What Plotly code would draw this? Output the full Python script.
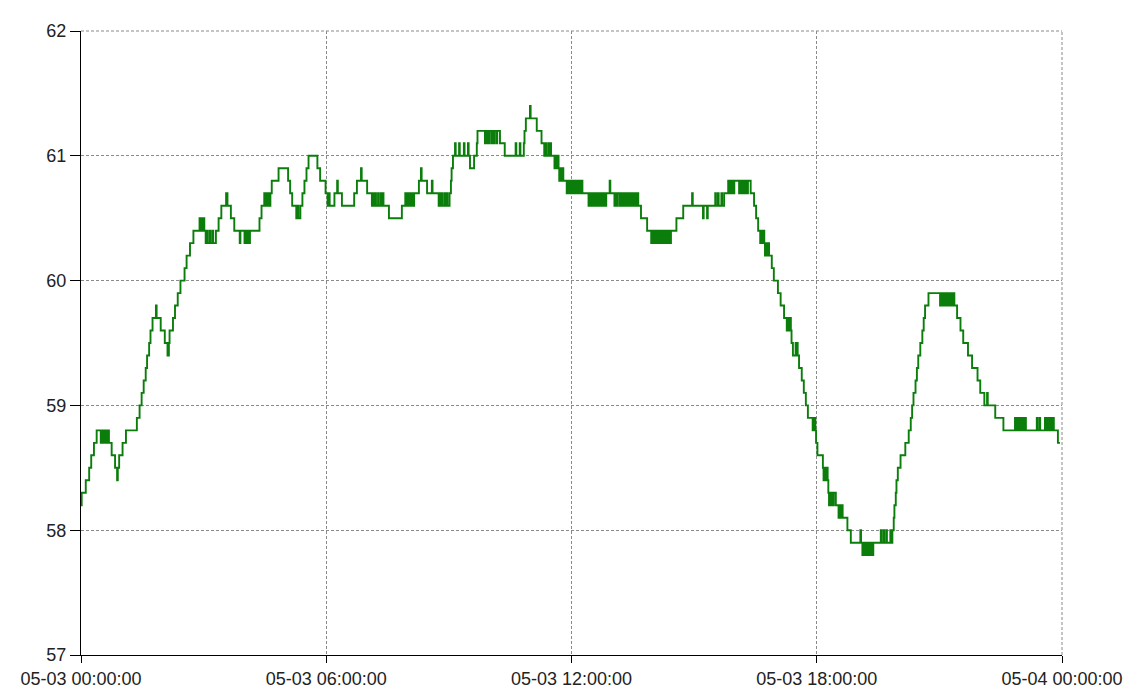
import pandas as pd
import plotly.graph_objects as go

# (minutes after 05-03 00:00, reading)
readings = [
    (0, 58.2), (1, 58.3), (7, 58.4), (12, 58.5), (15, 58.6), (19, 58.7), (23, 58.8),
    (29, 58.7), (31, 58.8), (33, 58.7), (35, 58.8), (37, 58.7), (39, 58.8), (41, 58.7),
    (45, 58.6), (50, 58.5), (53, 58.4), (54, 58.5), (56, 58.6), (61, 58.7), (66, 58.8),
    (82, 58.9), (86, 59.0), (89, 59.1), (92, 59.2), (95, 59.3), (97, 59.4), (100, 59.5), (102, 59.6),
    (105, 59.7), (110, 59.8), (111, 59.7),
    (117, 59.6), (123, 59.5), (127, 59.4), (129, 59.5), (130, 59.6), (135, 59.7), (138, 59.8),
    (142, 59.9), (146, 60.0), (152, 60.1), (155, 60.2), (160, 60.3), (165, 60.4),
    (174, 60.5), (176, 60.4), (177, 60.5), (179, 60.4), (180, 60.5), (181, 60.4),
    (183, 60.3), (185, 60.4), (186, 60.3), (189, 60.4), (190, 60.3), (193, 60.4), (194, 60.3),
    (198, 60.4), (202, 60.5), (206, 60.6), (213, 60.7), (215, 60.6), (220, 60.5), (225, 60.4),
    (233, 60.3), (234, 60.4),
    (240, 60.3), (242, 60.4), (243, 60.3), (245, 60.4), (246, 60.3), (248, 60.4),
    (262, 60.5), (265, 60.6), (269, 60.7), (271, 60.6), (272, 60.7), (274, 60.6), (275, 60.7),
    (277, 60.6), (278, 60.7),
    (280, 60.8), (290, 60.9), (304, 60.8), (307, 60.7), (310, 60.6), (316, 60.5), (318, 60.6),
    (319, 60.5),
    (322, 60.6), (325, 60.7), (328, 60.8), (331, 60.9), (334, 61.0), (347, 60.9), (351, 60.8),
    (359, 60.7), (362, 60.6), (363, 60.7), (365, 60.6),
    (372, 60.7), (376, 60.8), (377, 60.7), (383, 60.6), (401, 60.7), (405, 60.8), (411, 60.9),
    (412, 60.8), (420, 60.7), (427, 60.6),
    (429, 60.7), (430, 60.6), (432, 60.7), (433, 60.6), (436, 60.7), (437, 60.6), (440, 60.7),
    (441, 60.6), (443, 60.7), (444, 60.6),
    (452, 60.5), (471, 60.6), (476, 60.7), (478, 60.6), (479, 60.7), (481, 60.6), (482, 60.7),
    (484, 60.6), (486, 60.7), (487, 60.6), (489, 60.7),
    (496, 60.8), (499, 60.9), (500, 60.8), (508, 60.7), (515, 60.8), (516, 60.7),
    (525, 60.6), (527, 60.7), (528, 60.6), (530, 60.7), (531, 60.6), (534, 60.7), (535, 60.6),
    (537, 60.7), (538, 60.6),
    (541, 60.7), (543, 60.8), (544, 60.9), (546, 61.0), (549, 61.1), (550, 61.0), (555, 61.1),
    (556, 61.0), (562, 61.1), (563, 61.0), (568, 61.1), (569, 61.0),
    (571, 60.9), (577, 61.0), (581, 61.1), (582, 61.2),
    (593, 61.1), (594, 61.2), (596, 61.1), (597, 61.2), (599, 61.1), (600, 61.2), (603, 61.1),
    (604, 61.2), (606, 61.1), (607, 61.2), (610, 61.1), (611, 61.2),
    (615, 61.1), (622, 61.0), (638, 61.1), (639, 61.0), (644, 61.1), (645, 61.0), (650, 61.1),
    (651, 61.2), (653, 61.3), (659, 61.4), (660, 61.3),
    (669, 61.2), (676, 61.1), (680, 61.0), (682, 61.1), (683, 61.0), (686, 61.1), (687, 61.0),
    (689, 61.1), (690, 61.0),
    (695, 60.9), (697, 61.0), (698, 60.9), (700, 61.0), (701, 60.9),
    (702, 60.8), (704, 60.9), (705, 60.8), (707, 60.9), (708, 60.8),
    (713, 60.7), (714, 60.8), (716, 60.7), (717, 60.8), (719, 60.7), (720, 60.8), (722, 60.7),
    (723, 60.8), (725, 60.7), (726, 60.8), (728, 60.7), (729, 60.8), (731, 60.7), (732, 60.8),
    (734, 60.7), (735, 60.8), (736, 60.7),
    (745, 60.6), (747, 60.7), (748, 60.6), (750, 60.7), (751, 60.6), (753, 60.7), (754, 60.6),
    (756, 60.7), (757, 60.6), (759, 60.7), (760, 60.6), (762, 60.7), (763, 60.6), (765, 60.7),
    (766, 60.6), (768, 60.7), (769, 60.6), (771, 60.7),
    (776, 60.8), (777, 60.7),
    (783, 60.6), (785, 60.7), (786, 60.6), (788, 60.7), (791, 60.6), (793, 60.7), (794, 60.6),
    (796, 60.7), (797, 60.6), (799, 60.7), (800, 60.6), (802, 60.7), (803, 60.6), (805, 60.7),
    (806, 60.6), (808, 60.7), (809, 60.6), (811, 60.7), (812, 60.6), (814, 60.7), (815, 60.6),
    (817, 60.7), (818, 60.6),
    (822, 60.5), (831, 60.4),
    (837, 60.3), (839, 60.4), (840, 60.3), (842, 60.4), (843, 60.3), (845, 60.4), (846, 60.3),
    (848, 60.4), (849, 60.3), (851, 60.4), (852, 60.3), (854, 60.4), (855, 60.3), (857, 60.4),
    (858, 60.3), (860, 60.4), (861, 60.3), (863, 60.4), (864, 60.3), (866, 60.4),
    (874, 60.5), (884, 60.6), (897, 60.7), (898, 60.6), (913, 60.5), (914, 60.6), (919, 60.5),
    (920, 60.6),
    (931, 60.7), (932, 60.6), (935, 60.7), (936, 60.6), (940, 60.7), (941, 60.6), (944, 60.7),
    (950, 60.8), (951, 60.7), (953, 60.8), (954, 60.7), (956, 60.8), (957, 60.7), (959, 60.8),
    (966, 60.7), (967, 60.8), (969, 60.7), (970, 60.8), (972, 60.7), (973, 60.8), (975, 60.7),
    (976, 60.8), (978, 60.7), (979, 60.8),
    (983, 60.7), (988, 60.6), (991, 60.5), (994, 60.4), (997, 60.3), (998, 60.4), (1000, 60.3),
    (1001, 60.4), (1003, 60.3),
    (1004, 60.2), (1005, 60.3), (1007, 60.2), (1008, 60.3), (1010, 60.2),
    (1014, 60.1), (1017, 60.0), (1023, 59.9), (1027, 59.8), (1032, 59.7), (1036, 59.6),
    (1038, 59.7), (1039, 59.6), (1041, 59.7), (1042, 59.6),
    (1043, 59.5), (1045, 59.4), (1049, 59.5), (1050, 59.4), (1051, 59.5), (1052, 59.4),
    (1054, 59.3), (1058, 59.2), (1061, 59.1), (1064, 59.0), (1067, 58.9), (1074, 58.8),
    (1075, 58.9), (1076, 58.8), (1077, 58.9), (1078, 58.8),
    (1079, 58.7), (1081, 58.6), (1089, 58.5), (1090, 58.4), (1092, 58.5), (1093, 58.4),
    (1095, 58.5), (1096, 58.4),
    (1097, 58.3), (1098, 58.2), (1100, 58.3), (1101, 58.2), (1103, 58.3), (1104, 58.2),
    (1105, 58.3), (1108, 58.2),
    (1112, 58.1), (1113, 58.2), (1115, 58.1), (1116, 58.2), (1118, 58.1),
    (1125, 58.0), (1130, 57.9), (1144, 58.0), (1145, 57.9),
    (1147, 57.8), (1148, 57.9), (1150, 57.8), (1151, 57.9), (1153, 57.8), (1154, 57.9),
    (1156, 57.8), (1157, 57.9), (1159, 57.8), (1160, 57.9), (1162, 57.8),
    (1163, 57.9), (1174, 58.0), (1175, 57.9), (1178, 58.0), (1179, 57.9), (1182, 58.0),
    (1183, 57.9), (1188, 58.0), (1189, 57.9),
    (1191, 58.0), (1193, 58.1), (1194, 58.2), (1196, 58.3), (1197, 58.4), (1199, 58.5),
    (1203, 58.6), (1210, 58.7), (1215, 58.8), (1218, 58.9), (1220, 59.0), (1222, 59.1),
    (1225, 59.2), (1227, 59.3), (1229, 59.4), (1232, 59.5), (1235, 59.6), (1237, 59.7),
    (1239, 59.8), (1244, 59.9),
    (1261, 59.8), (1262, 59.9), (1264, 59.8), (1265, 59.9), (1267, 59.8), (1268, 59.9),
    (1270, 59.8), (1271, 59.9), (1273, 59.8), (1274, 59.9), (1276, 59.8), (1277, 59.9),
    (1279, 59.8),
    (1280, 59.9), (1282, 59.8), (1286, 59.7), (1291, 59.6), (1295, 59.5), (1302, 59.4),
    (1308, 59.3), (1316, 59.2), (1320, 59.1), (1326, 59.0), (1330, 59.1), (1331, 59.0),
    (1342, 58.9), (1354, 58.8),
    (1371, 58.9), (1372, 58.8), (1374, 58.9), (1375, 58.8), (1377, 58.9), (1378, 58.8),
    (1380, 58.9), (1381, 58.8), (1383, 58.9), (1384, 58.8), (1386, 58.9), (1387, 58.8),
    (1403, 58.9), (1404, 58.8), (1407, 58.9), (1408, 58.8),
    (1415, 58.9), (1416, 58.8), (1418, 58.9), (1419, 58.8), (1421, 58.9), (1422, 58.8),
    (1424, 58.9), (1425, 58.8), (1427, 58.9), (1428, 58.8),
    (1434, 58.7), (1437, 58.7),
]

start_time = "2024-05-03 00:00:00"
end_time = "2024-05-04 00:00:00"
x_tick_times = ["2024-05-03 00:00:00", "2024-05-03 06:00:00", "2024-05-03 12:00:00",
                "2024-05-03 18:00:00", "2024-05-04 00:00:00"]
x_tick_labels = ["05-03 00:00:00", "05-03 06:00:00", "05-03 12:00:00",
                 "05-03 18:00:00", "05-04 00:00:00"]
y_ticks = [57, 58, 59, 60, 61, 62]

minutes = [m for m, _ in readings]
values = [v for _, v in readings]
times = pd.Timestamp(start_time) + pd.to_timedelta(minutes, unit="min")

fig = go.Figure()
fig.add_trace(go.Scatter(
    x=times, y=values, mode="lines", line_shape="hv",
    line=dict(color="#0b7d0b", width=1.9),
    showlegend=False, hoverinfo="x+y",
))

font = dict(family="Liberation Sans, Arial, sans-serif", size=18, color="#222222")
grid_common = dict(showgrid=True, gridcolor="#8a8a8a", gridwidth=1, griddash="3px,2px",
                   showline=True, linecolor="#000000", linewidth=1.2,
                   ticks="outside", tickcolor="#000000", zeroline=False,
                   tickfont=font, mirror=False)

fig.update_xaxes(range=[start_time, end_time], tickmode="array", tickvals=x_tick_times,
                 ticktext=x_tick_labels, ticklen=7, **grid_common)
fig.update_yaxes(range=[57, 62], tickmode="array", tickvals=y_ticks, ticklen=10, **grid_common)

# dashed top and right frame like the grid
fig.add_shape(type="line", xref="paper", yref="paper", x0=0, x1=1, y0=1, y1=1,
              line=dict(color="#8a8a8a", width=1, dash="3px,2px"))
fig.add_shape(type="line", xref="paper", yref="paper", x0=1, x1=1, y0=0, y1=1,
              line=dict(color="#8a8a8a", width=1, dash="3px,2px"))

# page body has an 8px offset, compensate in margins
fig.update_layout(
    width=1136, height=694,
    margin=dict(l=70, r=82, t=23, b=47),
    plot_bgcolor="#ffffff", paper_bgcolor="#ffffff",
    font=font,
)

fig.write_html("out.html")
